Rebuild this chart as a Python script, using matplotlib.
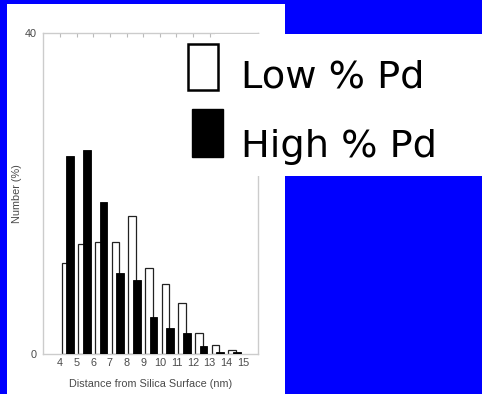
import matplotlib
matplotlib.use("Agg")
import matplotlib.pyplot as plt
from matplotlib.patches import Rectangle
import numpy as np

# Histogram bins (lower edge, nm) and percentage of particles in each bin
bin_edges = [4, 5, 6, 7, 8, 9, 10, 11, 12, 13, 14]
low_pd = [11.4, 13.7, 14.0, 13.9, 17.2, 10.7, 8.7, 6.4, 2.6, 1.1, 0.5]
high_pd = [24.7, 25.4, 18.9, 10.1, 9.2, 4.65, 3.2, 2.6, 1.0, 0.3, 0.2]
x_ticks = list(range(4, 16))
y_ticks = [0, 40]
series_names = ["Low % Pd", "High % Pd"]

W, H = 482, 394
fig = plt.figure(figsize=(W / 100, H / 100), dpi=100)
fig.patch.set_facecolor("#0000ff")


def fx(px):
    return px / W


def fy(py):
    return 1 - py / H


# white slide panel behind the chart
fig.add_artist(Rectangle((fx(7), 0), fx(285) - fx(7), fy(4), transform=fig.transFigure,
                         facecolor="white", edgecolor="none", zorder=-1))

ax_left, ax_right, ax_top, ax_bottom = 43, 258, 33, 354
ax = fig.add_axes([fx(ax_left), fy(ax_bottom), fx(ax_right) - fx(ax_left),
                   fy(ax_top) - fy(ax_bottom)])
ax.set_facecolor("white")

x = np.array(bin_edges, dtype=float)
ax.bar(x + 0.11, low_pd, width=0.46, align="edge", facecolor="white",
       edgecolor="#222222", linewidth=0.9, zorder=2)
ax.bar(x + 0.39, high_pd, width=0.46, align="edge", facecolor="black",
       edgecolor="black", linewidth=0.6, zorder=3)

ax.set_xlim(2.98, 15.9)
ax.set_ylim(0, 40)
for s in ax.spines.values():
    s.set_color("#cccccc")
    s.set_linewidth(1.0)

grey = "#4a4a4a"
ax.set_xticks(x_ticks)
ax.set_xticklabels([str(t) for t in x_ticks], fontsize=7.8, color=grey,
                   family="Liberation Sans")
ax.xaxis.set_tick_params(bottom=False, top=True, direction="in", length=3,
                         color="#bbbbbb", pad=3)
ax.set_yticks(y_ticks)
ax.set_yticklabels([str(t) for t in y_ticks], fontsize=7.8, color=grey,
                   family="Liberation Sans")
ax.yaxis.set_tick_params(left=False, pad=1)
ax.set_xlabel("Distance from Silica Surface (nm)", fontsize=7.8, color=grey,
              family="Liberation Sans")
ax.set_ylabel("Number (%)", fontsize=7.8, color=grey, family="Liberation Sans")
ax_w = ax_right - ax_left
ax_h = ax_bottom - ax_top
ax.xaxis.set_label_coords(0.5, (ax_bottom - 379) / ax_h)
ax.yaxis.set_label_coords((22 - ax_left) / ax_w, 0.5)

# legend panel
fig.add_artist(Rectangle((fx(215), fy(176)), fx(482) - fx(215), fy(34) - fy(176),
                         transform=fig.transFigure, facecolor="white",
                         edgecolor="none", zorder=5))
fig.add_artist(Rectangle((fx(188), fy(90)), fx(218) - fx(188), fy(44) - fy(90),
                         transform=fig.transFigure, facecolor="white",
                         edgecolor="black", linewidth=1.8, zorder=6))
fig.add_artist(Rectangle((fx(192), fy(157)), fx(223) - fx(192), fy(109) - fy(157),
                         transform=fig.transFigure, facecolor="black",
                         edgecolor="black", linewidth=1.0, zorder=6))
fig.text(fx(241), fy(87), series_names[0], fontsize=27.5, family="DejaVu Sans",
         va="baseline", ha="left", color="black", zorder=7)
fig.text(fx(241), fy(157), series_names[1], fontsize=27.5, family="DejaVu Sans",
         va="baseline", ha="left", color="black", zorder=7)

fig.savefig("out.png", dpi=100, facecolor=fig.get_facecolor())
